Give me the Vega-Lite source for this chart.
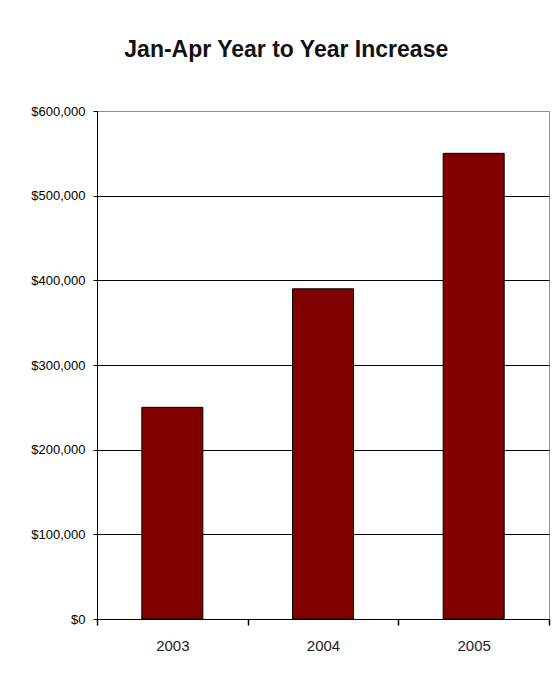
{
  "$schema": "https://vega.github.io/schema/vega-lite/v6.json",
  "width": 452,
  "height": 508,
  "autosize": {"type": "none"},
  "padding": {"left": 97, "top": 111, "right": 9, "bottom": 56},
  "background": "white",
  "title": {
    "text": "Jan-Apr Year to Year Increase",
    "font": "Liberation Sans",
    "fontSize": 23,
    "fontWeight": "bold",
    "color": "#111",
    "anchor": "middle",
    "frame": "bounds",
    "baseline": "alphabetic",
    "offset": 25,
    "dx": -4
  },
  "data": {
    "values": [
      {"year": "2003", "value": 250000},
      {"year": "2004", "value": 390000},
      {"year": "2005", "value": 550000}
    ]
  },
  "mark": {"type": "bar", "color": "#800000", "stroke": "black", "strokeWidth": 1, "width": {"band": 0.405}},
  "encoding": {
    "x": {
      "field": "year",
      "type": "nominal",
      "scale": {"paddingInner": 0, "paddingOuter": 0},
      "axis": {
        "title": null,
        "labelAngle": 0,
        "labelFont": "Liberation Sans",
        "labelFontSize": 15,
        "labelColor": "#222",
        "labelPadding": 13,
        "tickBand": "extent",
        "ticks": true,
        "tickSize": 6,
        "tickColor": "black",
        "tickWidth": 1.5,
        "domainColor": "black",
        "grid": false
      }
    },
    "y": {
      "field": "value",
      "type": "quantitative",
      "scale": {"domain": [0, 600000], "nice": false},
      "axis": {
        "title": null,
        "values": [0, 100000, 200000, 300000, 400000, 500000, 600000],
        "format": "$,.0f",
        "labelFont": "Liberation Sans",
        "labelFontSize": 13,
        "labelColor": "black",
        "labelPadding": 8,
        "tickSize": 4,
        "tickColor": "black",
        "domainColor": "black",
        "grid": true,
        "gridColor": {"condition": {"test": "datum.value == 600000", "value": "#909090"}, "value": "black"},
        "gridOpacity": 1
      }
    }
  },
  "config": {
    "view": {"stroke": "#909090", "strokeWidth": 1},
    "axis": {"domainWidth": 1, "tickWidth": 1, "gridWidth": 1}
  }
}
